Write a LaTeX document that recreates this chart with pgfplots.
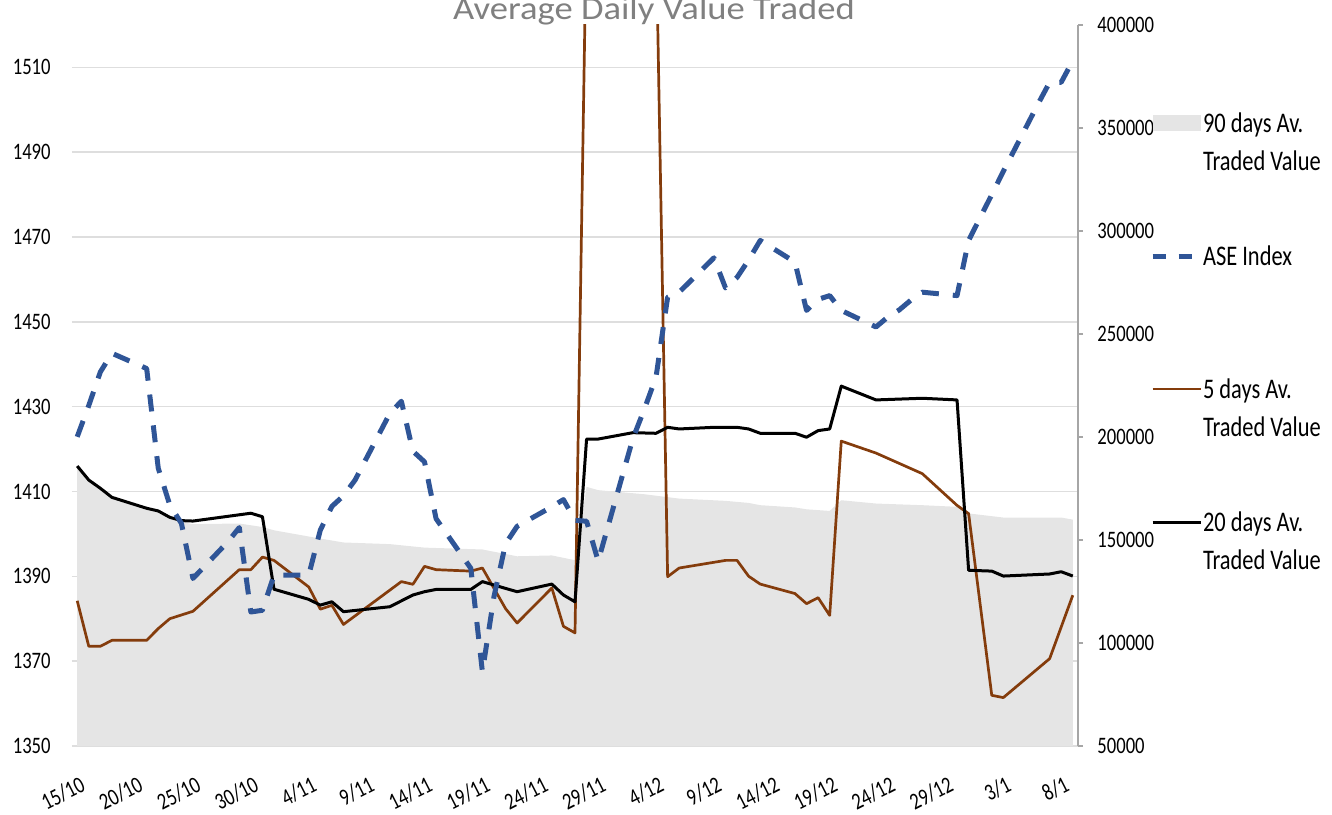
\documentclass[border=0pt]{standalone}
\usepackage{fontspec}
\setmainfont{Carlito}[FakeStretch=0.79]
\newfontfamily\titlefont{Carlito}[FakeStretch=1.13]
\usepackage{pgfplots}
\pgfplotsset{compat=1.18}
\usepackage{pgfplotstable}

\definecolor{aseblue}{RGB}{47,85,151}
\definecolor{brownfive}{RGB}{132,60,12}
\definecolor{areagray}{RGB}{229,229,229}
\definecolor{gridgray}{RGB}{222,222,222}
\definecolor{axisgray}{RGB}{166,166,166}
\definecolor{titlegray}{RGB}{128,128,128}

\newcommand\ticksize{\fontsize{11.8pt}{14pt}\selectfont}
\newcommand\legsize{\fontsize{14.2pt}{17pt}\selectfont}

\pgfplotsset{
  arealeg/.style={legend image code/.code={\fill[##1] (0pt,0.5pt) rectangle (24pt,8.5pt);}},
  lineleg/.style={legend image code/.code={\draw[##1] (0pt,4.5pt) -- (24pt,4.5pt);}},
}

\pgfplotstableread{
day ase
0 1422.9
1 1430.3
2 1438.2
3 1442.6
6 1439.0
7 1415.5
8 1406.8
9 1402.5
10 1389.5
13 1398.1
14 1401.5
15 1381.6
16 1382.0
17 1390.3
20 1390.3
21 1400.9
22 1406.5
23 1409.0
24 1412.7
27 1428.4
28 1431.3
29 1419.5
30 1417.0
31 1403.6
34 1391.9
35 1367.5
36 1385.2
37 1397.7
38 1401.8
41 1406.4
42 1408.1
43 1403.2
44 1403.0
45 1393.6
48 1422.5
49 1429.5
50 1437.0
51 1455.8
52 1457.0
55 1465.1
56 1458.0
57 1460.5
58 1464.6
59 1469.2
62 1464.1
63 1452.7
64 1455.3
65 1456.2
66 1452.7
69 1448.8
70 1451.1
71 1452.8
72 1455.1
73 1457.0
76 1456.2
77 1469.2
79 1480.0
80 1485.5
83 1501.4
84 1506.5
85 1506.5
86 1511.6
}\asedata

\pgfplotstableread{
day val
0 185900
1 179100
2 175100
3 170700
6 165400
7 164000
8 160800
9 158800
10 157700
14 158000
16 156300
17 154700
21 150700
23 148800
27 148000
30 146300
35 145400
38 142100
41 142500
43 140200
44 175800
45 174200
49 172200
52 170100
56 169000
58 168000
59 166900
62 165800
63 164900
65 164100
66 169300
69 167700
73 166900
76 166100
77 162900
80 160900
85 160900
86 159900
}\ninetydata

\pgfplotstableread{
day val
0 120500
1 98400
2 98400
3 101300
6 101300
7 107000
8 111800
10 115400
14 135600
15 135600
16 141700
17 140100
20 127200
21 116400
22 118300
23 109000
28 129800
29 128500
30 137200
31 135600
34 134900
35 136400
37 116700
38 109700
41 126700
42 108100
43 104900
44 453000
45 453500
48 455000
49 455500
50 446000
51 132200
52 136400
56 140100
57 140100
58 132400
59 128600
62 124000
63 119100
64 122000
65 113400
66 198000
69 192200
73 182200
76 166800
77 162800
79 74600
80 73500
84 92400
86 123200
}\fivedata

\pgfplotstableread{
day val
0 185900
1 179100
2 175100
3 170700
6 165400
7 164100
8 161000
9 159400
10 159200
15 163000
16 161300
17 126100
20 121200
21 118400
22 120000
23 115200
27 117600
29 123300
30 124900
31 126000
34 126000
35 129800
37 126500
38 124900
41 128600
42 123300
43 120000
44 199000
45 199000
48 202100
50 201800
51 204700
52 203900
55 204700
57 204700
58 203900
59 201800
62 201800
63 199900
64 203100
65 203900
66 224700
69 218000
73 218800
76 218000
77 135300
79 134900
80 132500
84 133500
85 134600
86 132500
}\twentydata

\begin{document}
\begin{tikzpicture}
\pgfplotsset{
  base/.style={
    at={(0,0)}, anchor=south west,
    scale only axis, width=503pt, height=360.5pt,
    xmin=-0.45, xmax=86.45,
  }
}
% primary axis: grid, left ticks, date labels, title
\begin{axis}[base,
  clip=false,
  ymin=1350, ymax=1520,
  axis x line*=bottom, axis y line*=left,
  axis line style={draw=none},
  tick style={draw=none},
  major tick length=0pt,
  ytick={1350,1370,1390,1410,1430,1450,1470,1490,1510},
  yticklabels={1350,1370,1390,1410,1430,1450,1470,1490,1510},
  ymajorgrids, major grid style={gridgray, line width=0.75pt},
  yticklabel style={font=\ticksize, anchor=east, inner sep=0pt, xshift=-10.5pt},
  xtick={0,5,...,85},
  xticklabels={\llap{15/10},\llap{20/10},\llap{25/10},\llap{30/10},\llap{4/11},\llap{9/11},\llap{14/11},\llap{19/11},\llap{24/11},\llap{29/11},\llap{4/12},\llap{9/12},\llap{14/12},\llap{19/12},\llap{24/12},\llap{29/12},\llap{3/1},\llap{8/1}},
  xticklabel style={font=\ticksize, xshift=0.8pt, yshift=-14.5pt, rotate=27, anchor=north, inner sep=0pt},
]
\addplot[draw=none, forget plot] coordinates {(0,1400)};
\node[anchor=base, inner sep=0pt, text=titlegray,
      font=\titlefont\fontsize{16.2pt}{19pt}\selectfont]
  at (rel axis cs:0.5785,1) [yshift=2.5pt] {Average Daily Value Traded};
\end{axis}

% secondary axis: traded values
\begin{axis}[base,
  clip=true,
  ymin=50000, ymax=400000,
  scaled y ticks=false,
  axis x line=none, axis y line*=right,
  y axis line style={axisgray, line width=0.75pt},
  ytick={50000,100000,150000,200000,250000,300000,350000,400000},
  yticklabels={50000,100000,150000,200000,250000,300000,350000,400000},
  ytick style={axisgray, line width=0.75pt},
  tick align=outside, major tick length=2.5pt,
  yticklabel style={font=\ticksize, anchor=west, inner sep=0pt, xshift=7pt},
  legend style={draw=none, fill=none, inner sep=0pt, outer sep=0pt,
    at={(1.07157,0.87933)}, anchor=north west,
    row sep=0pt, font=\legsize,
    cells={anchor=base west},
    nodes={inner sep=0pt},
    /tikz/every odd row/.append style={nodes={text height=10pt, text depth=4pt}},
    /tikz/every even row/.append style={nodes={text height=15.25pt, text depth=37.25pt}},
    /tikz/every even column/.append style={column sep=3pt}},
  lineleg,
]
\addplot[fill=areagray, draw=none, arealeg]
  table[x=day, y=val] {\ninetydata} \closedcycle;
\addlegendentry{90 days Av.}
\addlegendimage{empty legend}
\addlegendentry{Traded Value}
\addlegendimage{aseblue, line width=2.5pt, dash pattern=on 6.5pt off 6.5pt}
\addlegendentry{ASE Index}
\addlegendimage{empty legend}
\addlegendentry{\mbox{}}
\addplot[brownfive, line width=1.35pt, line join=round] table[x=day, y=val] {\fivedata};
\addlegendentry{5 days Av.}
\addlegendimage{empty legend}
\addlegendentry{Traded Value}
\addplot[black, line width=1.5pt, line join=round] table[x=day, y=val] {\twentydata};
\addlegendentry{20 days Av.}
\addlegendimage{empty legend}
\addlegendentry{Traded Value}
\end{axis}

% ASE index on top
\begin{axis}[base,
  clip=true,
  ymin=1350, ymax=1520,
  hide axis,
]
\addplot[aseblue, line width=2.5pt, dash pattern=on 8.5pt off 7pt, line join=round] table[x=day, y=ase] {\asedata};
\end{axis}

\pgfresetboundingbox
\useasboundingbox (-36pt,-34pt) rectangle (630pt,373pt);
\end{tikzpicture}
\end{document}
